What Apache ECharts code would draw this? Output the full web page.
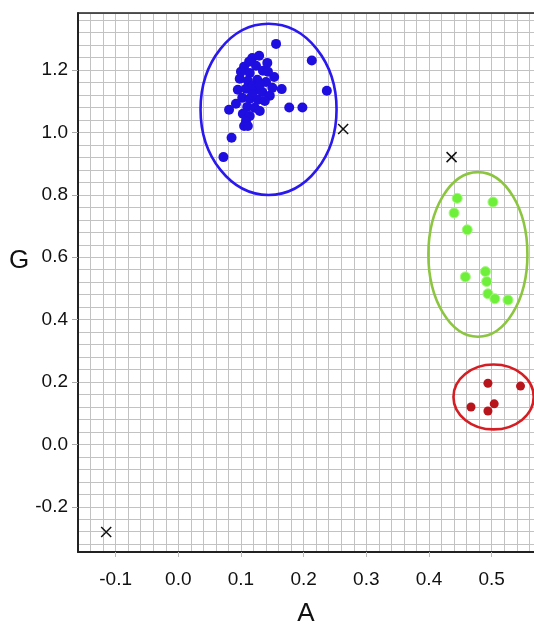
<!DOCTYPE html>
<html>
<head>
<meta charset="utf-8">
<script src="https://cdn.jsdelivr.net/npm/echarts@6/dist/echarts.min.js"></script>
<style>
html,body{margin:0;padding:0;background:#fff;overflow:hidden;width:534px;height:624px;}
#chart{width:534px;height:624px;}
</style>
</head>
<body>
<div id="chart"></div>
<script>
// ---- data ----
const blueX = [0.118,0.129,0.142,0.105,0.124,0.135,0.114,0.153,0.098,0.111,0.126,0.140,0.150,0.095,0.108,0.121,0.134,0.146,0.102,0.114,0.127,0.138,0.092,0.110,0.122,0.130,0.081,0.103,0.114,0.108,0.105,0.111,0.119,0.130,0.118,0.143,0.113,0.100,0.156,0.213,0.237,0.165,0.177,0.198,0.085,0.072];
const blueY = [1.239,1.246,1.223,1.211,1.214,1.198,1.191,1.178,1.172,1.166,1.169,1.162,1.143,1.137,1.140,1.134,1.130,1.118,1.111,1.108,1.105,1.101,1.092,1.082,1.079,1.069,1.073,1.060,1.053,1.037,1.021,1.021,1.150,1.153,1.121,1.195,1.227,1.195,1.284,1.231,1.134,1.139,1.080,1.080,0.983,0.921];
const greenX = [0.445,0.502,0.440,0.461,0.458,0.490,0.492,0.494,0.505,0.526];
const greenY = [0.789,0.777,0.742,0.688,0.537,0.554,0.522,0.483,0.467,0.463];
const redX = [0.494,0.546,0.467,0.504,0.494];
const redY = [0.196,0.187,0.120,0.130,0.107];
const crossX = [0.263,0.436,-0.115];
const crossY = [1.011,0.921,-0.281];
// ellipses: centre and radii in data units
const ellipseCX = [0.144,0.478,0.503];
const ellipseCY = [1.074,0.609,0.152];
const ellipseRX = [0.1085,0.079,0.064];
const ellipseRY = [0.2744,0.264,0.104];
const ellipseColors = ['#2a18f0','#8cc540','#d41e24'];
const xLabelName = 'A';
const yLabelName = 'G';

const zip = (xs, ys) => xs.map((x, i) => [x, ys[i]]);
const ellipseData = ellipseCX.map((cx, i) => [cx, ellipseCY[i], ellipseRX[i], ellipseRY[i], i]);

const chart = echarts.init(document.getElementById('chart'), null, {renderer: 'canvas', width: 534, height: 624});
const fontFamily = '"Liberation Sans", Arial, Helvetica, sans-serif';
const gridColor = '#c2c2c2';
const X_MIN = -0.16, X_MAX = 0.5675;

chart.setOption({
  animation: false,
  backgroundColor: '#fff',
  grid: {left: 78, top: 13, right: 0, bottom: 72, containLabel: false, outerBoundsMode: 'none',
         show: true, borderWidth: 0, backgroundColor: '#fff'},
  xAxis: [{
    type: 'value', min: X_MIN, max: X_MAX, splitNumber: 7,
    name: xLabelName, nameLocation: 'middle', nameGap: 49,
    nameTextStyle: {fontSize: 26, color: '#111', fontFamily: fontFamily, verticalAlign: 'top'},
    axisLine: {show: true, onZero: false, lineStyle: {color: '#222', width: 2}},
    axisTick: {show: true, length: 5, lineStyle: {color: '#bbb'}},
    axisLabel: {margin: 18, fontSize: 19, color: '#111', fontFamily: fontFamily, showMinLabel: false, showMaxLabel: false, formatter: v => v.toFixed(1)},
    splitLine: {show: true, lineStyle: {color: gridColor, width: 1}},
    minorTick: {show: false, splitNumber: 5},
    minorSplitLine: {show: true, lineStyle: {color: gridColor, width: 1}}
  }, {
    type: 'value', position: 'top', min: X_MIN, max: X_MAX, splitNumber: 7,
    axisLine: {show: true, onZero: false, lineStyle: {color: '#222', width: 1.5}},
    axisTick: {show: false}, axisLabel: {show: false}, splitLine: {show: false}
  }],
  yAxis: {
    type: 'value', min: -0.345, max: 1.383, splitNumber: 8,
    axisLine: {show: true, onZero: false, lineStyle: {color: '#222', width: 2}},
    axisTick: {show: true, length: 6, lineStyle: {color: '#aaa'}},
    axisLabel: {margin: 10, fontSize: 19, color: '#111', fontFamily: fontFamily, showMinLabel: false, showMaxLabel: false, formatter: v => v.toFixed(1)},
    splitLine: {show: true, lineStyle: {color: gridColor, width: 1}},
    minorTick: {show: false, splitNumber: 5},
    minorSplitLine: {show: true, lineStyle: {color: gridColor, width: 1}}
  },
  graphic: [{
    type: 'text', left: 9, top: 248,
    style: {text: yLabelName, fill: '#111', font: '26px ' + fontFamily}
  }],
  series: [
    {
      type: 'custom',
      data: ellipseData,
      encode: {x: 0, y: 1},
      clip: true,
      z: 3,
      renderItem: function (params, api) {
        const c = api.coord([api.value(0), api.value(1)]);
        const s = api.size([api.value(2), api.value(3)]);
        return {
          type: 'ellipse',
          shape: {cx: c[0], cy: c[1], rx: s[0], ry: s[1]},
          style: {fill: 'none', stroke: ellipseColors[api.value(4)], lineWidth: 2.6}
        };
      }
    },
    {type: 'scatter', data: zip(blueX, blueY), symbolSize: 10, z: 4,
     itemStyle: {color: '#1f0ee0', opacity: 1}},
    {type: 'scatter', data: zip(greenX, greenY), symbolSize: 10, z: 4,
     itemStyle: {color: '#6ef03a', borderColor: '#a6f880', borderWidth: 1, opacity: 1}},
    {type: 'scatter', data: zip(redX, redY), symbolSize: 9, z: 4,
     itemStyle: {color: '#b8141c', opacity: 1}},
    {type: 'scatter', data: zip(crossX, crossY), symbol: 'path://M0,0L10,10M10,0L0,10', symbolSize: 10, z: 4,
     itemStyle: {color: 'none', borderColor: '#111', borderWidth: 1.5, opacity: 1}}
  ]
});
</script>
</body>
</html>
